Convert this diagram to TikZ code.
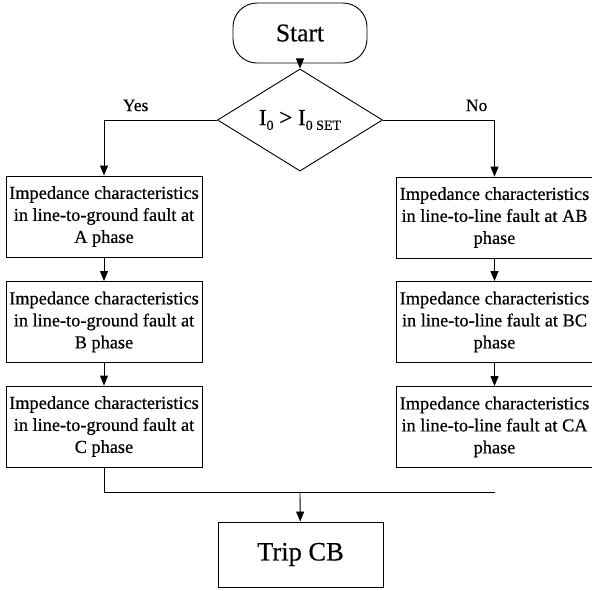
\documentclass[tikz,border=0pt]{standalone}
\usepackage{fontspec}
\setmainfont{Liberation Serif}[FakeBold=0.5]
\usetikzlibrary{shapes.geometric,arrows.meta}
\newcommand\lowsub[1]{\raisebox{-0.45ex}{\fontsize{14}{14}\selectfont #1}}
\tikzset{
  base/.style={draw, line width=0.9pt},
  procbox/.style={base, rectangle, minimum width=196pt, minimum height=81pt,
    align=center, inner sep=1pt, font=\fontsize{18.3}{22}\selectfont},
  flow/.style={line width=0.9pt, -{Triangle[length=10pt,width=8pt]}},
  link/.style={line width=0.9pt},
  lbl/.style={font=\fontsize{17.5}{17.5}\selectfont}
}
\begin{document}
\begin{tikzpicture}[x=1pt,y=-1pt]
  \useasboundingbox (0,0) rectangle (592,590);

  % start / decision
  \node[base, rectangle, rounded corners=24pt, minimum width=134pt, minimum height=60pt,
        font=\fontsize{25.5}{25.5}\selectfont] (start) at (300,33) {Start};
  \node[base, diamond, inner sep=0pt, minimum width=165pt, minimum height=64pt,
        font=\fontsize{23}{23}\selectfont] (dec) at (300,120)
        {I\lowsub{0} > I\lowsub{0 SET}};

  % line-to-ground branch
  \node[procbox] (g1) at (104,216.5) {Impedance characteristics\\in line-to-ground fault at\\A phase};
  \node[procbox] (g2) at (104,322)   {Impedance characteristics\\in line-to-ground fault at\\B phase};
  \node[procbox] (g3) at (104,426.5) {Impedance characteristics\\in line-to-ground fault at\\C phase};

  % line-to-line branch
  \node[procbox] (l1) at (494.5,217.5) {Impedance characteristics\\in line-to-line fault at AB\\phase};
  \node[procbox] (l2) at (494.5,322)   {Impedance characteristics\\in line-to-line fault at BC\\phase};
  \node[procbox] (l3) at (494.5,427)   {Impedance characteristics\\in line-to-line fault at CA\\phase};

  % trip
  \node[base, rectangle, minimum width=165pt, minimum height=65pt,
        font=\fontsize{26.5}{26.5}\selectfont] (trip) at (300.5,554.5) {Trip CB};

  % connectors
  \draw[flow] (start) -- (dec);
  \draw[flow] (dec.west) -| (g1.north) node[lbl, pos=0.36, above=5pt] {Yes};
  \draw[flow] (dec.east) -| (l1.north) node[lbl, pos=0.42, above=5pt] {No};
  \draw[flow] (g1) -- (g2);
  \draw[flow] (g2) -- (g3);
  \draw[flow] (l1) -- (l2);
  \draw[flow] (l2) -- (l3);

  \coordinate (join) at (300,492);
  \coordinate (mergeend) at (495,492);
  \draw[link] (g3.south) |- (mergeend);
  \draw[flow] (join) -- (trip);
\end{tikzpicture}
\end{document}
